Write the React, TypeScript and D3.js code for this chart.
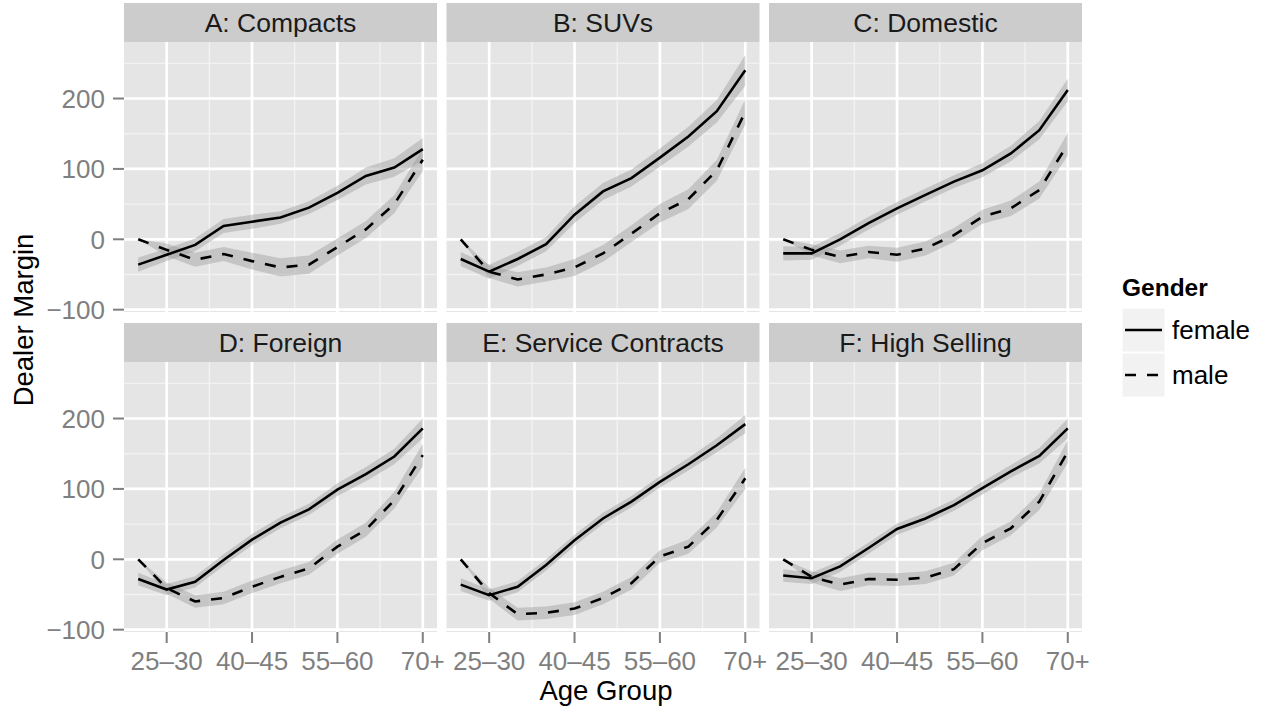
import React from "react";
import * as d3 from "d3";

// ---- data ----
const ageGroups = ["<25", "25–30", "30–35", "35–40", "40–45", "45–50", "50–55", "55–60", "60–65", "65–70", "70+"];
const xTickGroups = ["25–30", "40–45", "55–60", "70+"];
const yTicks = [-100, 0, 100, 200];
const yMinorTicks = [-50, 50, 150, 250];
const genders = ["female", "male"];
const panelTitles = ["A: Compacts", "B: SUVs", "C: Domestic", "D: Foreign", "E: Service Contracts", "F: High Selling"];

const femaleCompacts = [-36, -22, -8, 19, 25, 31, 45, 66, 90, 102, 128];
const maleCompacts = [0, -15, -29, -21, -31, -40, -36, -11, 14, 50, 113];
const femaleSUVs = [-28, -46, -28, -7, 35, 68, 87, 116, 146, 182, 240];
const maleSUVs = [0, -46, -57, -50, -40, -20, 8, 37, 57, 98, 181];
const femaleDomestic = [-20, -20, 0, 23, 44, 63, 82, 98, 122, 155, 212];
const maleDomestic = [0, -15, -25, -18, -22, -13, 6, 32, 44, 70, 135];
const femaleForeign = [-28, -43, -32, -1, 28, 52, 71, 99, 121, 146, 186];
const maleForeign = [0, -41, -60, -55, -39, -25, -13, 18, 42, 84, 148];
const femaleService = [-36, -51, -39, -8, 27, 58, 82, 110, 135, 162, 192];
const maleService = [0, -48, -78, -76, -70, -55, -34, 4, 18, 56, 115];
const femaleHighSelling = [-23, -27, -10, 16, 43, 58, 77, 101, 125, 147, 186];
const maleHighSelling = [0, -25, -36, -28, -29, -26, -14, 23, 44, 82, 153];

// ribbon half-widths
const femaleSeCompacts = [10, 9, 9, 10, 10, 9, 9, 10, 12, 13, 16];
const maleSeCompacts = [0, 9, 10, 10, 12, 13, 13, 12, 12, 13, 16];
const femaleSeSUVs = [10, 10, 10, 10, 12, 12, 12, 13, 14, 16, 22];
const maleSeSUVs = [0, 9, 10, 10, 12, 12, 12, 13, 14, 15, 18];
const femaleSeDomestic = [10, 9, 9, 9, 9, 9, 9, 10, 11, 13, 16];
const maleSeDomestic = [0, 8, 9, 9, 10, 10, 10, 10, 11, 12, 16];
const femaleSeForeign = [9, 8, 8, 8, 8, 8, 8, 9, 10, 11, 14];
const maleSeForeign = [0, 8, 9, 9, 9, 9, 9, 10, 10, 12, 16];
const femaleSeService = [9, 8, 8, 8, 8, 8, 8, 8, 9, 10, 13];
const maleSeService = [0, 8, 9, 9, 9, 9, 9, 9, 10, 11, 15];
const femaleSeHighSelling = [9, 8, 8, 8, 8, 8, 8, 9, 9, 11, 14];
const maleSeHighSelling = [0, 8, 9, 9, 9, 9, 9, 10, 10, 12, 16];

const femaleSeries = [femaleCompacts, femaleSUVs, femaleDomestic, femaleForeign, femaleService, femaleHighSelling];
const maleSeries = [maleCompacts, maleSUVs, maleDomestic, maleForeign, maleService, maleHighSelling];
const femaleSe = [femaleSeCompacts, femaleSeSUVs, femaleSeDomestic, femaleSeForeign, femaleSeService, femaleSeHighSelling];
const maleSe = [maleSeCompacts, maleSeSUVs, maleSeDomestic, maleSeForeign, maleSeService, maleSeHighSelling];

// ---- layout ----
const W = 1266;
const H = 714;
const FONT = "'Liberation Sans', Arial, Helvetica, sans-serif";
const colLeft = [124, 446.5, 769];
const panelW = 313;
const stripTop = [3, 323];
const stripH = 39;
const panelH = 270;
const DASH = "11,11";

export default function App() {
  const x = d3.scaleLinear().domain([0.5, ageGroups.length + 0.5]).range([0, panelW]);
  const y = d3.scaleLinear().domain([-103.3, 280.3]).range([panelH, 0]);
  const xMinor = d3.range(xTickGroups.length - 1).map((k) => {
    const a = ageGroups.indexOf(xTickGroups[k]) + 1;
    const b = ageGroups.indexOf(xTickGroups[k + 1]) + 1;
    return (a + b) / 2;
  });
  const xMajor = xTickGroups.map((g) => ageGroups.indexOf(g) + 1);

  const line = d3
    .line<number>()
    .x((_, i) => x(i + 1))
    .y((d) => y(d));
  const area = (vals: number[], se: number[]) =>
    d3
      .area<number>()
      .x((_, i) => x(i + 1))
      .y0((d, i) => y(d - se[i]))
      .y1((d, i) => y(d + se[i]))(vals) || "";

  const capH = 0.716;
  const tickFs = 26;
  const stripFs = 26.5;
  const titleFs = 27.5;

  return (
    <svg
      width={W}
      height={H}
      style={{ position: "absolute", left: 0, top: 0, display: "block", background: "#fff" }}
      fontFamily={FONT}
    >
      <rect x={0} y={0} width={W} height={H} fill="#ffffff" />
      {panelTitles.map((title, p) => {
        const col = p % 3;
        const row = Math.floor(p / 3);
        const left = colLeft[col];
        const sTop = stripTop[row];
        const pTop = sTop + stripH;
        return (
          <g key={title}>
            {/* strip */}
            <rect x={left} y={sTop} width={panelW} height={stripH} fill="#cccccc" />
            <text
              x={left + panelW / 2}
              y={sTop + stripH / 2 + (stripFs * capH) / 2}
              textAnchor="middle"
              fontSize={stripFs}
              fill="#1a1a1a"
            >
              {title}
            </text>
            <g transform={`translate(${left},${pTop})`}>
              <rect x={0} y={0} width={panelW} height={panelH} fill="#e5e5e5" />
              {/* minor grid */}
              {yMinorTicks.map((v) => (
                <line key={"ym" + v} x1={0} x2={panelW} y1={y(v)} y2={y(v)} stroke="#f2f2f2" strokeWidth={1.4} />
              ))}
              {xMinor.map((v) => (
                <line key={"xm" + v} x1={x(v)} x2={x(v)} y1={0} y2={panelH} stroke="#f2f2f2" strokeWidth={1.4} />
              ))}
              {/* major grid */}
              {yTicks.map((v) => (
                <line key={"yM" + v} x1={0} x2={panelW} y1={y(v)} y2={y(v)} stroke="#ffffff" strokeWidth={2.7} />
              ))}
              {xMajor.map((v) => (
                <line key={"xM" + v} x1={x(v)} x2={x(v)} y1={0} y2={panelH} stroke="#ffffff" strokeWidth={2.7} />
              ))}
              {/* ribbons */}
              <path d={area(femaleSeries[p], femaleSe[p])} fill="#999999" fillOpacity={0.42} />
              <path d={area(maleSeries[p], maleSe[p])} fill="#999999" fillOpacity={0.42} />
              {/* lines */}
              <path d={line(femaleSeries[p]) || ""} fill="none" stroke="#000" strokeWidth={2.6} />
              <path
                d={line(maleSeries[p]) || ""}
                fill="none"
                stroke="#000"
                strokeWidth={2.6}
                strokeDasharray={DASH}
              />
            </g>
            {/* y axis on left column */}
            {col === 0 &&
              yTicks.map((v) => (
                <g key={"yt" + v}>
                  <line x1={left - 11} x2={left} y1={pTop + y(v)} y2={pTop + y(v)} stroke="#7f7f7f" strokeWidth={2} />
                  <text
                    x={left - 19}
                    y={pTop + y(v) + (tickFs * capH) / 2}
                    textAnchor="end"
                    fontSize={tickFs}
                    fill="#7f7f7f"
                  >
                    {v < 0 ? "\u2212" + Math.abs(v) : String(v)}
                  </text>
                </g>
              ))}
            {/* x axis on bottom row */}
            {row === 1 &&
              xTickGroups.map((g) => {
                const xv = left + x(ageGroups.indexOf(g) + 1);
                return (
                  <g key={"xt" + g}>
                    <line x1={xv} x2={xv} y1={pTop + panelH} y2={pTop + panelH + 11} stroke="#7f7f7f" strokeWidth={2} />
                    <text x={xv} y={pTop + panelH + 38} textAnchor="middle" fontSize={tickFs} fill="#7f7f7f">
                      {g}
                    </text>
                  </g>
                );
              })}
          </g>
        );
      })}
      {/* axis titles */}
      <text x={606} y={700} textAnchor="middle" fontSize={titleFs} fill="#000">
        Age Group
      </text>
      <text transform="translate(33,320) rotate(-90)" textAnchor="middle" fontSize={titleFs} fill="#000">
        Dealer Margin
      </text>
      {/* legend */}
      <text x={1122} y={296} fontSize={24.5} fontWeight="bold" fill="#000">
        Gender
      </text>
      {genders.map((g, k) => {
        const ky = 308 + k * 45;
        const cy = ky + 22;
        return (
          <g key={g}>
            <rect x={1122} y={ky} width={43} height={44} fill="#f2f2f2" stroke="#ffffff" strokeWidth={1} />
            <line
              x1={1125}
              x2={1162}
              y1={cy}
              y2={cy}
              stroke="#000"
              strokeWidth={2.6}
              strokeDasharray={g === "male" ? DASH : undefined}
            />
            <text x={1172} y={cy + (26 * capH) / 2} fontSize={26} fill="#000">
              {g}
            </text>
          </g>
        );
      })}
    </svg>
  );
}
